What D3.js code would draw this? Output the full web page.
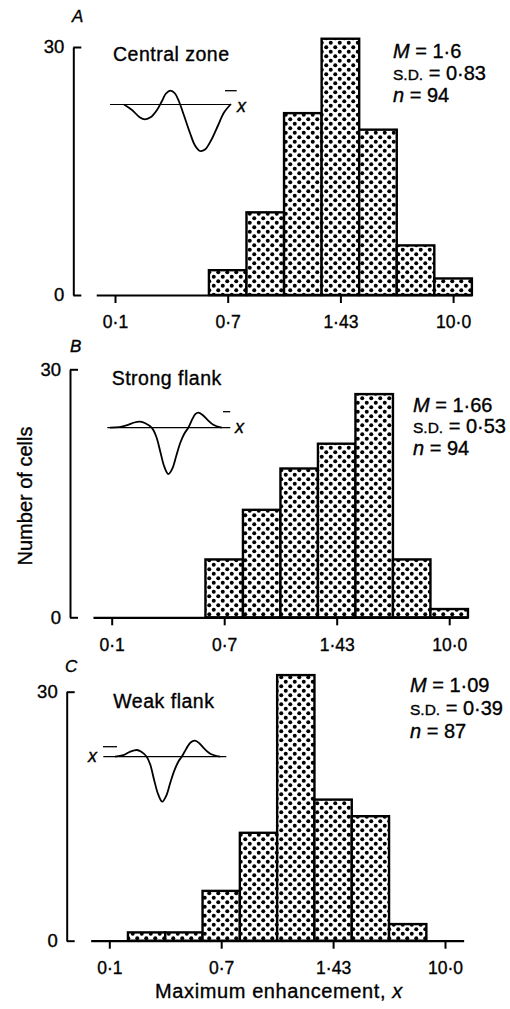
<!DOCTYPE html>
<html>
<head>
<meta charset="utf-8">
<script src="https://cdn.jsdelivr.net/npm/d3@7/dist/d3.min.js"></script>
<style>
  html, body { margin: 0; padding: 0; background: #fff; }
  svg { display: block; font-family: "Liberation Sans", Arial, Helvetica, sans-serif; }
  svg text { stroke: #000; stroke-width: 0.35px; }
</style>
</head>
<body>
<script>
// ---------------- DATA ----------------
const tickPositions = [0, 1, 2, 3];
const tickLabels = ["0·1", "0·7", "1·43", "10·0"];
const yTicks = [0, 30];
// bin centres, in units of the labelled tick spacing (three bins per interval)
const binCenters = [0, 1/3, 2/3, 1, 4/3, 5/3, 2, 7/3, 8/3, 3];
const countsA = [0, 0, 0, 3, 10, 22, 31, 20, 6, 2];
const countsB = [0, 0, 0, 7, 13, 18, 21, 27, 7, 1];
const countsC = [0, 1, 1, 6, 13, 32, 17, 15, 2, 0];
const panelLetters = ["A", "B", "C"];
const panelTitles = ["Central zone", "Strong flank", "Weak flank"];
const statM = ["1·6", "1·66", "1·09"];
const statSD = ["0·83", "0·53", "0·39"];
const statN = ["94", "94", "87"];
const yTitle = "Number of cells";
const xTitle = "Maximum enhancement, ";
// inset waveforms: [time, amplitude] (amplitude positive upward)
const waveA = [[14,0],[22,-5.5],[30,-13],[35,-14.8],[41,-12.5],[47,-5.5],[52,3.5],[56,11],[60.5,13.8],[65,11],[69,3],[74,-11],[80,-28.5],[85,-41],[90,-46.5],[95,-45],[101,-36],[108,-21],[114,-8],[121,0.5]];
const waveB = [[2.7,0],[12,0.5],[20,2.5],[27,5.2],[32.7,6],[38,4.5],[44.4,0],[49,-9],[53,-24],[57,-39],[61,-46.3],[65,-41],[69,-28],[73,-15],[77,-6],[81,0],[85,8.5],[88,13.5],[91,15],[95,13],[100,8],[106,3],[114.4,0]];
const waveC = [[11.7,0],[20,1.5],[27,5],[33.4,6.7],[38,5],[43.4,0],[47,-8],[51,-24],[55,-38],[59,-45],[63,-39],[67,-26],[71,-14],[75,-5],[78.4,0],[83,8],[87,14],[91.7,16],[96,13.5],[101,8],[107,3],[116.7,0]];
const counts = [countsA, countsB, countsC];
const waves = [waveA, waveB, waveC];

// ---------------- LAYOUT ----------------
const layout = [
  { tick0: 115,   step: 112.7, y0: 295,   y30: 47,    axisX: 73.3,
    letter: [72, 21.7], title: [113, 61], stats: [393, 58, 21.8],
    inset: { x0: 110, y: 104.5, len: 121, macron: [115, 126.7, 13.8], xl: [127, -7.5] } },
  { tick0: 111.7, step: 112.5, y0: 617.3, y30: 369.3, axisX: 70,
    letter: [70, 351.7], title: [111.7, 385], stats: [413, 411.5, 21.8],
    inset: { x0: 107.3, y: 427.7, len: 123, macron: [115.7, 122.9, 16], xl: [127.7, -5.3] } },
  { tick0: 109.3, step: 111.9, y0: 940.7, y30: 691.7, axisX: 66.7,
    letter: [65, 671.7], title: [113.3, 708.3], stats: [410, 692, 23],
    inset: { x0: 103.3, y: 756.7, len: 123, macron: [-0.3, 13.7, 10], xl: [-15.3, -5.3] } }
];

const W = 510, H = 1009;
const svg = d3.select("body").append("svg").attr("width", W).attr("height", H);

const defs = svg.append("defs");
const pat = defs.append("pattern").attr("id", "dots")
  .attr("patternUnits", "userSpaceOnUse").attr("width", 9).attr("height", 9);
pat.append("rect").attr("width", 9).attr("height", 9).attr("fill", "#fff");
pat.selectAll("circle").data([[2.25, 2.25], [6.75, 6.75]]).join("circle")
  .attr("cx", d => d[0]).attr("cy", d => d[1]).attr("r", 2.0).attr("fill", "#000");

layout.forEach((L, i) => {
  const g = svg.append("g");
  const x = d3.scaleLinear().domain([-1/6, 19/6])
    .range([L.tick0 - L.step / 6, L.tick0 + L.step * 19 / 6]);
  const y = d3.scaleLinear().domain([0, 30]).range([L.y0, L.y30]);

  // x axis (baseline + ticks)
  const xa = g.append("g").attr("transform", `translate(0,${L.y0})`)
    .call(d3.axisBottom(x).tickValues(tickPositions)
      .tickFormat((d, k) => tickLabels[k]).tickSize(8).tickSizeOuter(0).tickPadding(13));
  xa.select(".domain").attr("stroke", "#000").attr("stroke-width", 2.2);
  xa.selectAll(".tick line").attr("stroke", "#000").attr("stroke-width", 2);
  xa.selectAll(".tick text").attr("fill", "#000").attr("font-size", 17.5)
    .attr("font-family", "Liberation Sans, Arial, sans-serif");

  // y axis bracket
  const ya = g.append("g").attr("transform", `translate(${L.axisX},0)`)
    .call(d3.axisLeft(y).tickValues(yTicks).tickSizeInner(-8).tickSizeOuter(0).tickPadding(9));
  ya.select(".domain").attr("stroke", "#000").attr("stroke-width", 2);
  ya.selectAll(".tick line").attr("stroke", "#000").attr("stroke-width", 2);
  ya.selectAll(".tick text").attr("fill", "#000").attr("font-size", 18.5)
    .attr("font-family", "Liberation Sans, Arial, sans-serif");

  // bars
  const data = binCenters.map((c, j) => ({ c, n: counts[i][j] })).filter(d => d.n > 0);
  g.append("g").selectAll("rect").data(data).join("rect")
    .attr("x", d => x(d.c - 1/6))
    .attr("width", d => x(d.c + 1/6) - x(d.c - 1/6))
    .attr("y", d => y(d.n))
    .attr("height", d => y(0) - y(d.n))
    .attr("fill", "url(#dots)")
    .attr("stroke", "#000").attr("stroke-width", 2.4);

  // panel letter
  g.append("text").attr("x", L.letter[0]).attr("y", L.letter[1])
    .attr("font-size", 17).attr("font-style", "italic").text(panelLetters[i]);

  // title
  g.append("text").attr("x", L.title[0]).attr("y", L.title[1])
    .attr("font-size", 19.5).attr("letter-spacing", 0.5).text(panelTitles[i]);

  // stats
  const st = g.append("g").attr("font-size", 20);
  const [sx, sy, sdy] = L.stats;
  const t1 = st.append("text").attr("x", sx).attr("y", sy);
  t1.append("tspan").attr("font-style", "italic").text("M");
  t1.append("tspan").text(" = " + statM[i]);
  const t2 = st.append("text").attr("x", sx).attr("y", sy + sdy);
  t2.append("tspan").attr("font-size", 15.5).text("S.D.");
  t2.append("tspan").text(" = " + statSD[i]);
  const t3 = st.append("text").attr("x", sx).attr("y", sy + 2 * sdy);
  t3.append("tspan").attr("font-style", "italic").text("n");
  t3.append("tspan").text(" = " + statN[i]);

  // inset waveform
  const I = L.inset;
  const ix = d3.scaleLinear().domain([0, 100]).range([I.x0, I.x0 + 100]);
  const iy = d3.scaleLinear().domain([0, 100]).range([I.y, I.y - 100]);
  g.append("line").attr("x1", ix(0)).attr("x2", ix(I.len))
    .attr("y1", iy(0)).attr("y2", iy(0)).attr("stroke", "#000").attr("stroke-width", 1.2);
  g.append("path").datum(waves[i])
    .attr("d", d3.line().x(d => ix(d[0])).y(d => iy(d[1])).curve(d3.curveCatmullRom))
    .attr("fill", "none").attr("stroke", "#000").attr("stroke-width", 1.8);
  g.append("line").attr("x1", ix(I.macron[0])).attr("x2", ix(I.macron[1]))
    .attr("y1", iy(I.macron[2])).attr("y2", iy(I.macron[2]))
    .attr("stroke", "#000").attr("stroke-width", 1.3);
  g.append("text").attr("x", ix(I.xl[0])).attr("y", iy(I.xl[1]))
    .attr("font-size", 18).attr("font-style", "italic").text("x");
});

// axis titles
svg.append("text").attr("transform", "translate(32,496) rotate(-90)")
  .attr("text-anchor", "middle").attr("font-size", 20).text(yTitle);
const xt = svg.append("text").attr("x", 279).attr("y", 998)
  .attr("text-anchor", "middle").attr("font-size", 20).attr("letter-spacing", 0.6);
xt.append("tspan").text(xTitle);
xt.append("tspan").attr("font-style", "italic").text("x");
</script>
</body>
</html>
